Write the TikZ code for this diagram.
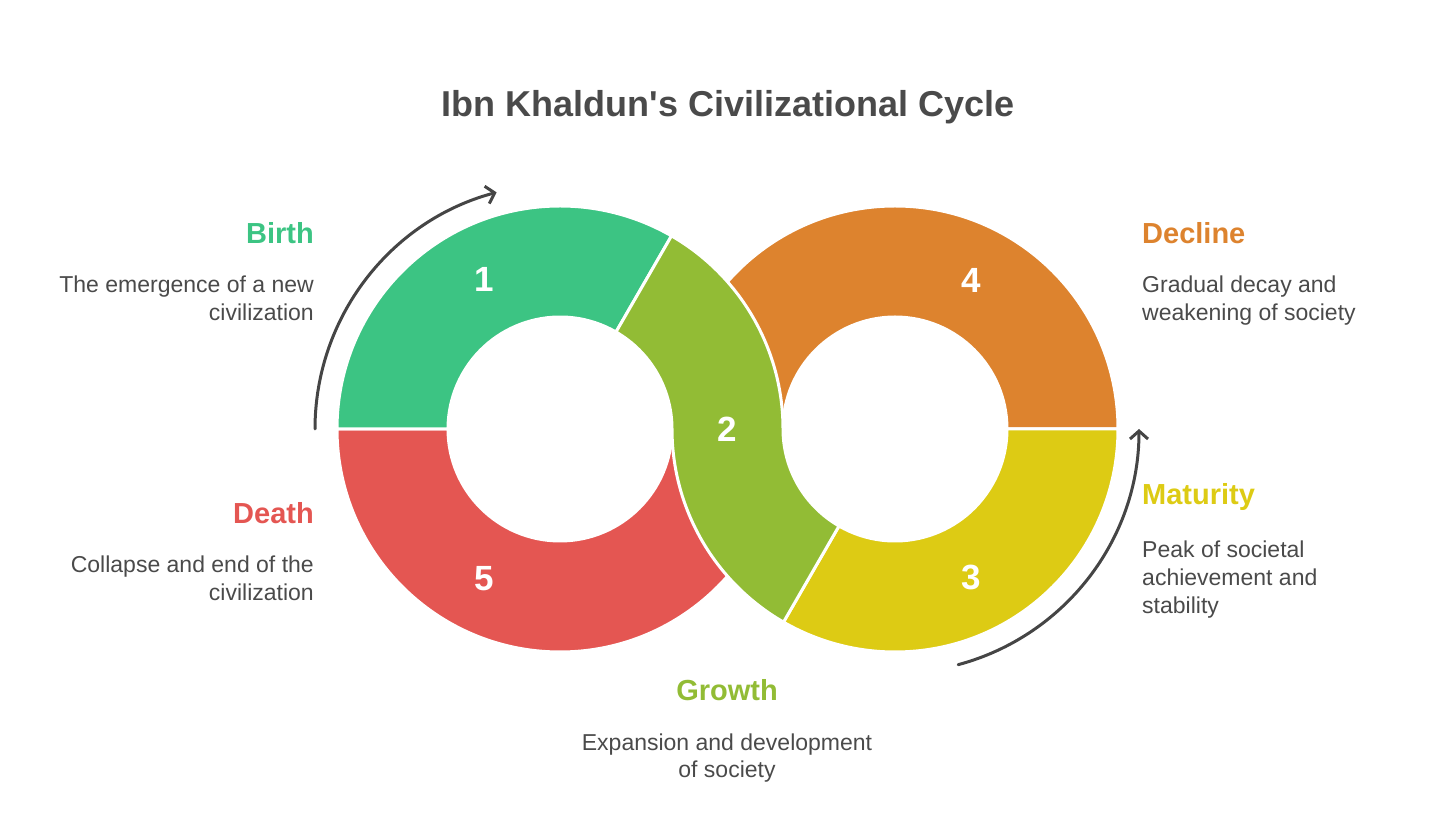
\documentclass[tikz,border=0pt]{standalone}
\usepackage{fontspec}
\setmainfont{Liberation Sans}
\usepackage{tikz}
\usetikzlibrary{arrows.meta, positioning, calc}

\definecolor{birthGreen}{HTML}{3CC483}
\definecolor{growthGreen}{HTML}{92BC35}
\definecolor{maturityYellow}{HTML}{DDCB14}
\definecolor{declineOrange}{HTML}{DD832E}
\definecolor{deathRed}{HTML}{E45652}
\definecolor{textGray}{HTML}{4A4A4A}
\definecolor{arrowGray}{HTML}{454545}

\newcommand{\RingPart}[4]{
    \filldraw[ringPart, fill=#1, shift={(#2)}] (#3:112) arc[start angle=#3, end angle=#4, radius=112]
        -- (#4:223) arc[start angle=#4, end angle=#3, radius=223] -- cycle;
}

\tikzset{
    % Common
    cyclePic/.style={x=1pt, y=1pt},
    ringPart/.style={draw=white, line width=3pt, line join=round},
    arrowCycle/.style={-{Straight Barb[length=8pt, width=18pt]}, line width=3pt, draw=arrowGray, line cap=round},
    % Text Styles
    titleText/.style={font=\bfseries\fontsize{36}{40}\selectfont, text=textGray, inner sep=0pt},
    headLabel/.style={font=\bfseries\fontsize{29}{34}\selectfont, inner sep=0pt},
    descText/.style={font=\fontsize{23}{28}\selectfont, text=textGray, inner sep=0pt},
    numLabel/.style={font=\bfseries\fontsize{35}{40}\selectfont, text=white, inner sep=0pt}
}

\begin{document}
\begin{tikzpicture}[cyclePic]
    \useasboundingbox (0,0) rectangle (1456,819);
    \coordinate (leftC) at (560,390);
    \coordinate (rightC) at (895,390);

    % Title
    \node[titleText, anchor=base] (title) at (728,702) {Ibn Khaldun\textquotesingle s Civilizational Cycle};

    % Ring segments
    \RingPart{deathRed}{leftC}{180}{360}
    \RingPart{declineOrange}{rightC}{0}{180}
    \RingPart{birthGreen}{leftC}{60}{180}
    \RingPart{maturityYellow}{rightC}{240}{360}

    % Growth piece
    \filldraw[ringPart, fill=growthGreen] ([shift={(60:223)}]leftC)
        arc[start angle=60, end angle=0, radius=223]
        arc[start angle=180, end angle=240, radius=112]
        -- ([shift={(240:223)}]rightC)
        arc[start angle=240, end angle=180, radius=223]
        arc[start angle=0, end angle=60, radius=112] -- cycle;

    % Numbers
    \foreach \ang/\num in {117/1, 243/5} \node[numLabel] (num\num) at ([shift={(\ang:168)}]leftC) {\num};
    \foreach \ang/\num in {63/4, -63/3} \node[numLabel] (num\num) at ([shift={(\ang:167)}]rightC) {\num};
    \node[numLabel] (num2) at ($(leftC)!0.5!(rightC)$) {2};

    % Cycle arrows
    \draw[arrowCycle] ([shift={(180:245)}]leftC) arc[start angle=180, end angle=105, radius=245];
    \draw[arrowCycle] ([shift={(-75:244)}]rightC) arc[start angle=-75, end angle=0, radius=244];

    % Left labels
    \node[headLabel, text=birthGreen, anchor=base east] (birthHead) at (314,575) {Birth};
    \node[descText, anchor=base east, align=right] (birthDesc) at (314,498) {The emergence of a new\\civilization};
    \node[headLabel, text=deathRed, anchor=base east] (deathHead) at (314,295) {Death};
    \node[descText, anchor=base east, align=right] (deathDesc) at (314,218) {Collapse and end of the\\civilization};

    % Right labels
    \node[headLabel, text=declineOrange, anchor=base west] (declineHead) at (1142,575) {Decline};
    \node[descText, anchor=base west, align=left] (declineDesc) at (1142,498) {Gradual decay and\\weakening of society};
    \node[headLabel, text=maturityYellow, anchor=base west] (maturityHead) at (1142,314) {Maturity};
    \node[descText, anchor=base west, align=left] (maturityDesc) at (1142,205) {Peak of societal\\achievement and\\stability};

    % Bottom label
    \node[headLabel, text=growthGreen, anchor=base] (growthHead) at (727,118) {Growth};
    \node[descText, anchor=base, align=center] (growthDesc) at (727,41) {Expansion and development\\of society};
\end{tikzpicture}
\end{document}
